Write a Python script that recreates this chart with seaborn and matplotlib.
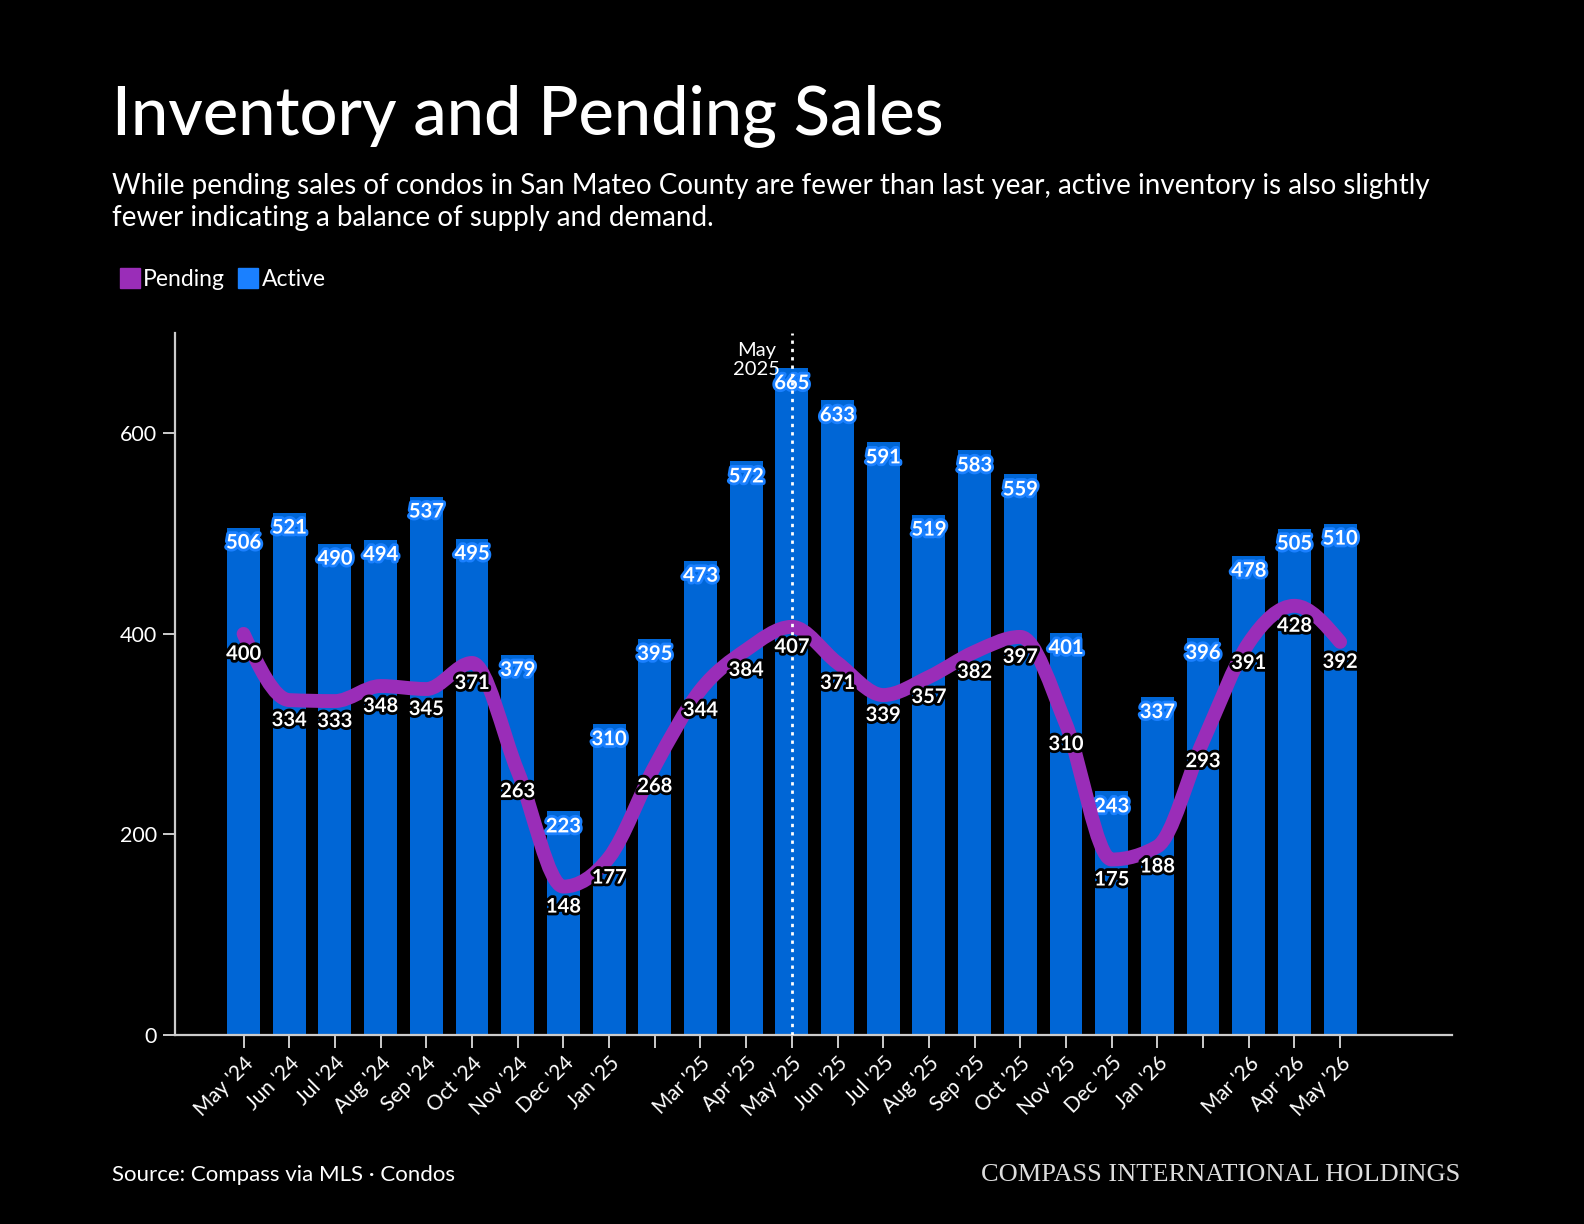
import numpy as np
import pandas as pd
import matplotlib
matplotlib.use("Agg")
import matplotlib.pyplot as plt
import matplotlib.patheffects as pe
from matplotlib.path import Path
from matplotlib.patches import PathPatch
from matplotlib.lines import Line2D
import seaborn as sns

months = ["May '24", "Jun '24", "Jul '24", "Aug '24", "Sep '24", "Oct '24", "Nov '24",
          "Dec '24", "Jan '25", "Feb '25", "Mar '25", "Apr '25", "May '25", "Jun '25",
          "Jul '25", "Aug '25", "Sep '25", "Oct '25", "Nov '25", "Dec '25", "Jan '26",
          "Feb '26", "Mar '26", "Apr '26", "May '26"]
tick_labels = ["May '24", "Jun '24", "Jul '24", "Aug '24", "Sep '24", "Oct '24", "Nov '24",
               "Dec '24", "Jan '25", "", "Mar '25", "Apr '25", "May '25", "Jun '25",
               "Jul '25", "Aug '25", "Sep '25", "Oct '25", "Nov '25", "Dec '25", "Jan '26",
               "", "Mar '26", "Apr '26", "May '26"]
active = [506, 521, 490, 494, 537, 495, 379, 223, 310, 395, 473, 572, 665, 633,
          591, 519, 583, 559, 401, 243, 337, 396, 478, 505, 510]
pending = [400, 334, 333, 348, 345, 371, 263, 148, 177, 268, 344, 384, 407, 371,
           339, 357, 382, 397, 310, 175, 188, 293, 391, 428, 392]
yticks = [0, 200, 400, 600]
marker_month = "May '25"
marker_label = "May\n2025"

BG = "#000000"
BAR = "#0066d6"
BAR_LEG = "#1a80ff"
PURPLE = "#9a2db8"
FONT = ["Lato", "DejaVu Sans"]

sns.set_theme(style="white")
plt.rcParams["font.family"] = FONT
plt.rcParams["text.color"] = "white"

fig = plt.figure(figsize=(15.84, 12.24), dpi=100, facecolor=BG)
ax = fig.add_axes([0.1105, 0.1544, 0.8062, 0.5735], facecolor=BG)

df = pd.DataFrame({"month": months, "active": active, "pending": pending})
sns.barplot(data=df, x="month", y="active", order=months, color=BAR, saturation=1,
            width=0.72, ax=ax, zorder=2, linewidth=0, edgecolor=BAR)

# smooth monotone curve for pending (cubic Bezier through data points)
xs = np.arange(len(pending), dtype=float)
ys = np.array(pending, dtype=float)
d = np.diff(ys)
m = np.zeros_like(ys)
for i in range(1, len(ys) - 1):
    s0, s1 = d[i - 1], d[i]
    if s0 * s1 <= 0:
        m[i] = 0
    else:
        p = (s0 + s1) / 2
        m[i] = (np.sign(s0) + np.sign(s1)) * min(abs(s0), abs(s1), 0.5 * abs(p))
m[0] = (3 * d[0] - m[1]) / 2
m[-1] = (3 * d[-1] - m[-2]) / 2
verts = [(xs[0], ys[0])]
codes = [Path.MOVETO]
for i in range(len(ys) - 1):
    verts += [(xs[i] + 1 / 3, ys[i] + m[i] / 3),
              (xs[i + 1] - 1 / 3, ys[i + 1] - m[i + 1] / 3),
              (xs[i + 1], ys[i + 1])]
    codes += [Path.CURVE4] * 3
ax.add_patch(PathPatch(Path(verts, codes), facecolor="none", edgecolor=PURPLE,
                       lw=10, capstyle="round", joinstyle="round", zorder=4))

# active labels
for i, v in enumerate(active):
    ax.annotate(str(v), (i, v), xytext=(0, -15), textcoords="offset pixels",
                ha="center", va="center", fontsize=14.5, fontweight="bold", color="white",
                zorder=3,
                path_effects=[pe.withStroke(linewidth=4, foreground=BAR_LEG)])
# pending labels
for i, v in enumerate(pending):
    ax.annotate(str(v), (i, v), xytext=(0, -20), textcoords="offset pixels",
                ha="center", va="center", fontsize=14.5, fontweight="bold", color="white",
                zorder=6,
                path_effects=[pe.withStroke(linewidth=4, foreground="black")])

# marker line
mi = months.index(marker_month)
ax.axvline(mi, color="white", lw=2, ls=(0, (1.2, 1.8)), zorder=5)
ax.text(mi - 0.26, 673, marker_label, ha="right", va="center", fontsize=14.5,
        color="white", multialignment="center", zorder=6, linespacing=1.15)

ax.set_xlim(-1.5, len(months) + 1.45)
ax.set_ylim(0, 700)
ax.set_yticks(yticks)
ax.set_yticklabels([str(t) for t in yticks], fontsize=15.5, color="white")
ax.set_xticks(range(len(months)))
ax.set_xticklabels(tick_labels, rotation=45, ha="right", rotation_mode="anchor",
                   fontsize=15, color="white")
ax.set_xlabel("")
ax.set_ylabel("")
for s in ["top", "right"]:
    ax.spines[s].set_visible(False)
for s in ["left", "bottom"]:
    ax.spines[s].set_color("#cccccc")
    ax.spines[s].set_linewidth(1.6)
ax.tick_params(axis="both", which="both", length=9, width=1.4, color="#cccccc",
               bottom=True, left=True, pad=4)
ax.grid(False)

# title / subtitle
fig.text(0.0707, 0.905, "Inventory and Pending Sales", fontsize=48, fontweight="medium",
         color="white", va="center", ha="left")
fig.text(0.0707, 0.835, "While pending sales of condos in San Mateo County are fewer than last year, active inventory is also slightly\nfewer indicating a balance of supply and demand.",
         fontsize=20, color="white", va="center", ha="left", linespacing=1.25)

handles = [Line2D([], [], marker="s", ls="none", markersize=15, markerfacecolor=PURPLE,
                  markeredgecolor=PURPLE),
           Line2D([], [], marker="s", ls="none", markersize=15, markerfacecolor=BAR_LEG,
                  markeredgecolor=BAR_LEG)]
fig.legend(handles, ["Pending", "Active"], loc="center left", bbox_to_anchor=(0.063, 0.772),
           ncol=2, frameon=False, fontsize=16.5, handlelength=0.8, handletextpad=0.2,
           columnspacing=0.6, labelcolor="white")

fig.text(0.0707, 0.04, "Source: Compass via MLS · Condos", fontsize=16, color="white",
         va="center", ha="left")
fig.text(0.922, 0.04, "COMPASS INTERNATIONAL HOLDINGS", fontsize=19, color="#dddddd",
         family=["Liberation Serif", "DejaVu Serif"], va="center", ha="right")

fig.savefig("out.png", dpi=100, facecolor=BG)
